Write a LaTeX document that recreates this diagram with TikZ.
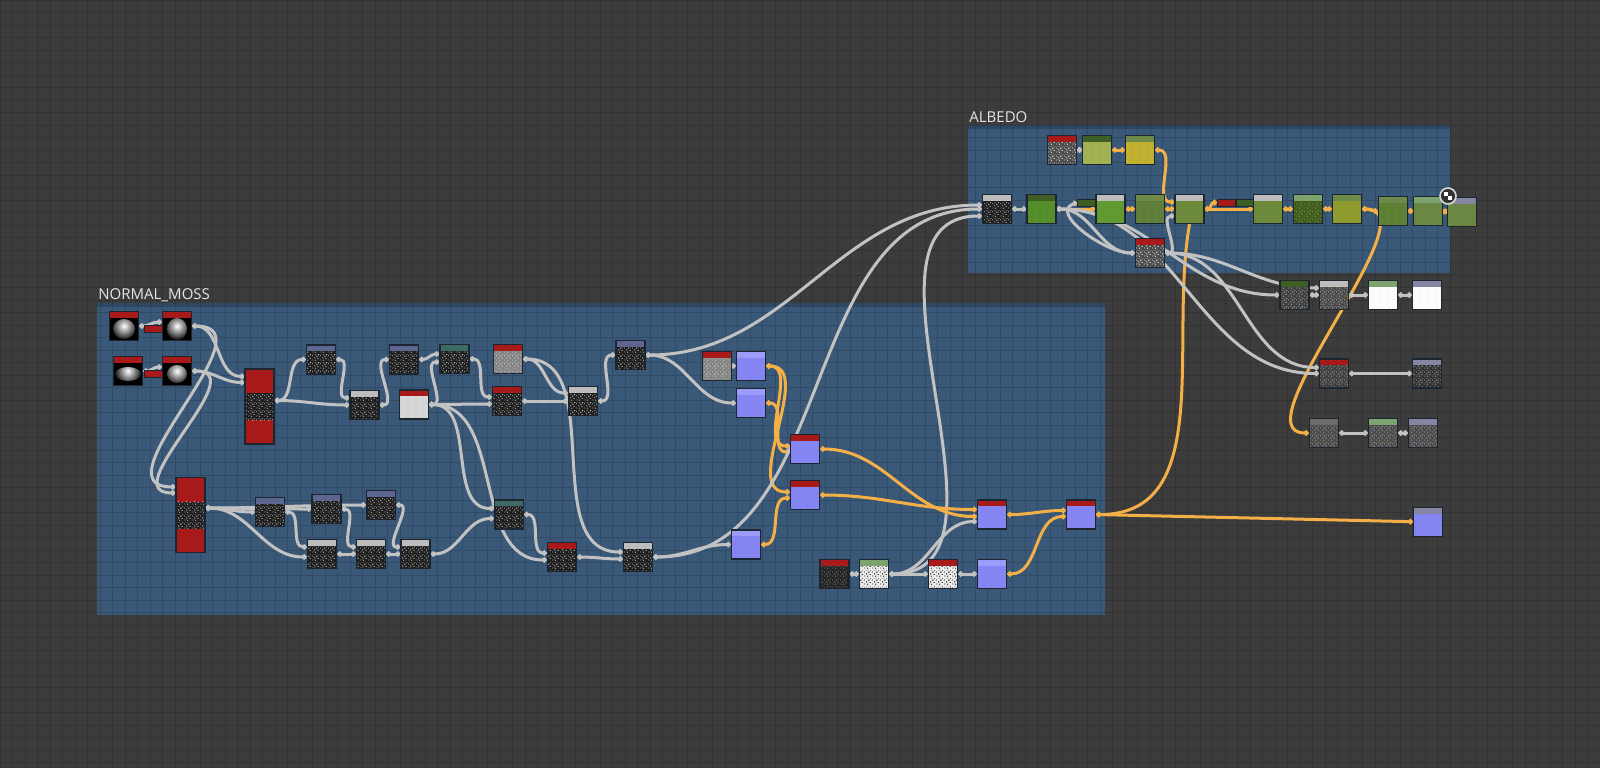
\documentclass[tikz,border=0pt]{standalone}
\usepackage{fontspec}
\setmainfont{Open Sans}
\usetikzlibrary{arrows.meta,patterns}

\definecolor{canvas}{HTML}{3C3C3C}
\definecolor{framec}{HTML}{3A5878}
\definecolor{framebar}{HTML}{2E4864}
\definecolor{edge}{HTML}{1C2630}
\definecolor{wireg}{HTML}{C2C2C2}
\definecolor{wireo}{HTML}{F4B046}
\definecolor{hred}{HTML}{A81A1A}
\definecolor{hblue}{HTML}{5C6690}
\definecolor{hgray}{HTML}{BDBDBD}
\definecolor{hteal}{HTML}{3D6A66}
\definecolor{hdkgreen}{HTML}{3E5E24}
\definecolor{hltgreen}{HTML}{7DA46E}
\definecolor{holive}{HTML}{6E8A48}
\definecolor{hlav}{HTML}{8686A2}
\definecolor{hmid}{HTML}{6C6C6C}
\definecolor{nrm}{HTML}{8282F2}
\definecolor{nrmtop}{HTML}{9C9CF8}
\definecolor{gA}{HTML}{A6B64A}
\definecolor{gY}{HTML}{C6B426}
\definecolor{gB}{HTML}{4E8E1E}
\definecolor{gC}{HTML}{5C9C26}
\definecolor{gD}{HTML}{5A7C30}
\definecolor{gE}{HTML}{6A8A32}
\definecolor{gG}{HTML}{3E5E16}
\definecolor{gH}{HTML}{8E9C22}
\definecolor{gI}{HTML}{587E2A}
\definecolor{gJ}{HTML}{68863A}

\pgfdeclarelayer{bg}
\pgfdeclarelayer{wires}
\pgfsetlayers{bg,wires,main}

\pgfdeclarepatternformonly{speckle}{\pgfpointorigin}{\pgfpoint{4pt}{4pt}}{\pgfpoint{4pt}{4pt}}{
  \pgfpathrectangle{\pgfpoint{0.2pt}{0.3pt}}{\pgfpoint{0.5pt}{0.5pt}}
  \pgfpathrectangle{\pgfpoint{1.9pt}{0.1pt}}{\pgfpoint{0.4pt}{0.6pt}}
  \pgfpathrectangle{\pgfpoint{3.1pt}{1.2pt}}{\pgfpoint{0.5pt}{0.4pt}}
  \pgfpathrectangle{\pgfpoint{1.1pt}{1.5pt}}{\pgfpoint{0.6pt}{0.5pt}}
  \pgfpathrectangle{\pgfpoint{0.1pt}{2.6pt}}{\pgfpoint{0.4pt}{0.4pt}}
  \pgfpathrectangle{\pgfpoint{2.4pt}{2.3pt}}{\pgfpoint{0.5pt}{0.6pt}}
  \pgfpathrectangle{\pgfpoint{1.4pt}{3.3pt}}{\pgfpoint{0.5pt}{0.4pt}}
  \pgfpathrectangle{\pgfpoint{3.3pt}{3.2pt}}{\pgfpoint{0.4pt}{0.5pt}}
  \pgfusepath{fill}}

\newcommand{\hdband}{\fill[\hdcol] (path picture bounding box.north west) rectangle ([yshift=-3.2pt]path picture bounding box.north east);}
\newcommand{\nzfill}{\fill[pattern=speckle, pattern color=\nzcol] (path picture bounding box.south west) rectangle (path picture bounding box.north east);}

\begin{document}
\begin{tikzpicture}[x=0.5pt, y=-0.5pt,
    hd/.store in=\hdcol, hd=hgray,
    nz/.store in=\nzcol, nz=white!80!black,
    tile/.style={draw=edge, line width=0.6pt, minimum width=14.5pt, minimum height=14.5pt, inner sep=0pt, fill=black!88, path picture={\hdband}},
    noisy/.style={tile, path picture={\nzfill\hdband}},
    normal/.style={noisy, fill=nrm, nz=nrmtop, hd=nrmtop},
    blob/.style={tile, fill=black, hd=hred, path picture={\shade[inner color=white, outer color=black] ([yshift=-1.5pt]path picture bounding box.center) ellipse (#1); \hdband}},
    blob/.default={5.5pt and 5pt},
    tall/.style={draw=edge, line width=0.6pt, minimum width=14.5pt, minimum height=37.5pt, inner sep=0pt, fill=hred,
      path picture={\fill[black!88] ([yshift=-12pt]path picture bounding box.north west) rectangle ([yshift=-25.5pt]path picture bounding box.north east);
        \fill[pattern=speckle, pattern color=white!80!black] ([yshift=-12pt]path picture bounding box.north west) rectangle ([yshift=-25.5pt]path picture bounding box.north east);}},
    pin/.style={draw=edge, line width=0.5pt, minimum width=9pt, minimum height=3.5pt, inner sep=0pt, fill=#1},
    wire/.style={wireg, line width=1.5pt, {Circle[length=2.6pt]}-{Circle[length=2.6pt]}},
    hot/.style={wire, wireo},
    title/.style={anchor=base west, inner sep=0pt, text=white!90!black, font=\fontsize{7.5}{9}\selectfont}]

  \useasboundingbox (0,0) rectangle (1600,768);

  % Canvas and frames
  \begin{pgfonlayer}{bg}
    \fill[canvas] (0,0) rectangle (1600,768);
    \fill[framec] (97,303) rectangle (1105,615);
    \fill[framebar] (97,303) rectangle (1105,307);
    \fill[framec] (968,125) rectangle (1450,273);
    \fill[framebar] (968,125) rectangle (1450,129);
    \draw[black, opacity=0.14, line width=0.5pt, step=6.25pt] (0,768) grid (1600,0);
  \end{pgfonlayer}

  \node[title] (normalTitle) at (98,299) {NORMAL\_MOSS};
  \node[title] (albedoTitle) at (969,122.5) {ALBEDO};

  % Define nodes: NORMAL_MOSS
  \node[blob] (b1) at (124,326) {};
  \node[blob={5pt and 5.5pt}] (b2) at (177,326) {};
  \node[blob={6.5pt and 3.5pt}] (b3) at (128,371) {};
  \node[blob={5pt and 4.5pt}] (b4) at (177,371) {};
  \node[pin=hred] (pinA) at (153,329) {};
  \node[pin=hred] (pinB) at (153,374) {};
  \node[tall] (tallA) at (259.5,406.5) {};
  \node[tall] (tallB) at (190.5,515) {};
  \node[noisy, hd=hblue] (nzA) at (321,359.5) {};
  \node[noisy, hd=hgray] (nzB) at (364.5,405) {};
  \node[noisy, hd=hblue] (nzC) at (404,359.5) {};
  \node[noisy, hd=hteal] (nzD) at (454.5,359) {};
  \node[noisy, hd=hred, fill=black!18, nz=white] (lite) at (414,404.5) {};
  \node[noisy, hd=hred, fill=black!48, nz=black!18] (cloudA) at (508,359) {};
  \node[noisy, hd=hred] (nzE) at (507,401) {};
  \node[noisy, hd=hgray] (nzF) at (583,401) {};
  \node[noisy, hd=hblue] (nzG) at (630.5,355) {};
  \node[noisy, hd=hred, fill=black!48, nz=black!18] (cloudB) at (717,366) {};
  \node[normal] (nrmA) at (751,366) {};
  \node[normal] (nrmB) at (751,403) {};
  \node[normal, hd=hred] (nrmC) at (805,449) {};
  \node[normal, hd=hred] (nrmD) at (805,495) {};
  \node[noisy, hd=hblue] (nzK) at (270,512) {};
  \node[noisy, hd=hblue] (nzL) at (326.5,509) {};
  \node[noisy, hd=hblue] (nzM) at (381,505) {};
  \node[noisy, hd=hgray] (nzN) at (322,554) {};
  \node[noisy, hd=hgray] (nzO) at (371,554) {};
  \node[noisy, hd=hgray] (nzP) at (415.5,554) {};
  \node[noisy, hd=hteal] (nzH) at (509,514.5) {};
  \node[noisy, hd=hred] (nzI) at (562,557) {};
  \node[noisy, hd=hgray] (nzJ) at (638,557) {};
  \node[normal] (nrmE) at (746,544.5) {};
  \node[normal, hd=hred] (nrmF) at (992,514.5) {};
  \node[normal, hd=hred] (nrmG) at (1081,514.5) {};
  \node[noisy, hd=hred, fill=black!85, nz=black!50] (patA) at (834.5,574) {};
  \node[noisy, hd=hltgreen, fill=black!8, nz=black] (patB) at (874,574) {};
  \node[noisy, hd=hred, fill=black!8, nz=black] (patC) at (943,574) {};
  \node[normal] (nrmH) at (992,574) {};

  % Define nodes: ALBEDO
  \node[noisy, hd=hred, fill=black!70, nz=white] (grungeA) at (1062,150) {};
  \node[noisy, hd=hdkgreen, fill=gA, nz=black!45] (grnA) at (1097,150) {};
  \node[noisy, hd=holive, fill=gY, nz=black!45] (ylwA) at (1140,150) {};
  \node[noisy, hd=hgray] (nzAl) at (997,209) {};
  \node[noisy, hd=hdkgreen, fill=gB, nz=black!45] (grnB) at (1041.5,209) {};
  \node[pin=hdkgreen] (pinC) at (1086.7,202.5) {};
  \node[noisy, hd=hgray, fill=gC, nz=black!45] (grnC) at (1110.5,209) {};
  \node[noisy, hd=holive, fill=gD, nz=black!45] (grnD) at (1150,209) {};
  \node[noisy, hd=hgray, fill=gE, nz=black!45] (grnE) at (1189.5,209) {};
  \node[pin=hred] (pinD) at (1226.7,202.5) {};
  \node[pin=hdkgreen] (pinE) at (1245.3,202.5) {};
  \node[noisy, hd=hgray, fill=gE, nz=black!45] (grnF) at (1268,209) {};
  \node[noisy, hd=hltgreen, fill=gG, nz=black!45] (grnG) at (1308,209) {};
  \node[noisy, hd=holive, fill=gH, nz=black!45] (grnH) at (1347,209) {};
  \node[noisy, hd=holive, fill=gI, nz=black!45] (grnI) at (1393,211) {};
  \node[noisy, hd=hltgreen, fill=gJ, nz=black!45] (grnJ) at (1428,211) {};
  \node[noisy, hd=hlav, fill=gJ, nz=black!45] (grnK) at (1462,212) {};
  \node[noisy, hd=hred, fill=black!70, nz=white] (grungeB) at (1150,253) {};
  \node[circle, draw=white!85!black, line width=0.8pt, fill=black!80, minimum size=8pt, inner sep=0pt,
    path picture={\fill[white] ([shift={(-2pt,2pt)}]path picture bounding box.center) rectangle (path picture bounding box.center);
      \fill[white] (path picture bounding box.center) rectangle ([shift={(2pt,-2pt)}]path picture bounding box.center);}] (icon) at (1448,196) {};

  % Define nodes: outputs
  \node[noisy, hd=hdkgreen, fill=black!75, nz=black!30] (nzQ) at (1294.5,295) {};
  \node[noisy, hd=hgray, fill=black!70, nz=black!30] (nzR) at (1334,295) {};
  \node[noisy, hd=hltgreen, fill=white, nz=black!12] (whtA) at (1383,295) {};
  \node[noisy, hd=hlav, fill=white, nz=black!12] (whtB) at (1427,295) {};
  \node[noisy, hd=hred, fill=black!75, nz=black!30] (nzS) at (1334,373.5) {};
  \node[noisy, hd=hlav, fill=black!80, nz=black!25] (nzT) at (1427,373.5) {};
  \node[noisy, hd=hmid, fill=black!70, nz=black!35] (nzU) at (1324,433) {};
  \node[noisy, hd=hltgreen, fill=black!70, nz=black!35] (nzV) at (1383,433) {};
  \node[noisy, hd=hlav, fill=black!70, nz=black!35] (nzW) at (1423,433) {};
  \node[normal, hd=hlav] (nrmI) at (1428,521.7) {};

  % Draw edges
  \begin{pgfonlayer}{wires}
    \draw[wire] (b1.east) to[out=0,in=180] ([yshift=2pt]b2.west);
    \draw[wire] (b3.east) to[out=0,in=180] ([yshift=2pt]b4.west);
    \draw[wire] (b2.east) to[out=0,in=180] ([yshift=-4pt]tallA.north west);
    \draw[wire] (b4.east) to[out=0,in=180] ([yshift=-7pt]tallA.north west);
    \draw[wire] (b2.east) to[out=0,in=180,looseness=1.3] ([yshift=-5pt]tallB.north west);
    \draw[wire] (b4.east) to[out=0,in=180,looseness=1.3] ([yshift=-8pt]tallB.north west);
    \draw[wire] ([yshift=3pt]tallA.east) to[out=0,in=180] (nzA.west);
    \draw[wire] ([yshift=3pt]tallA.east) to[out=0,in=180] (nzB.west);
    \draw[wire] (nzA.east) to[out=0,in=180] ([yshift=3.5pt]nzB.west);
    \draw[wire] (nzB.east) to[out=0,in=180] (nzC.west);
    \draw[wire] (nzC.east) to[out=0,in=180] ([yshift=2.5pt]nzD.west);
    \draw[wire] (lite.east) to[out=0,in=180] ([yshift=-1.5pt]nzD.west);
    \draw[wire] (lite.east) to[out=0,in=180] ([yshift=-1.5pt]nzE.west);
    \draw[wire] (lite.east) to[out=0,in=180] ([yshift=3pt]nzH.west);
    \draw[wire] (lite.east) to[out=0,in=180] ([yshift=-1.5pt]nzI.west);
    \draw[wire] (nzD.east) to[out=0,in=180] ([yshift=2pt]nzE.west);
    \draw[wire] (cloudA.east) to[out=0,in=180] ([yshift=4pt]nzF.west);
    \draw[wire] (cloudA.east) to[out=0,in=180] ([yshift=2.5pt]nzJ.west);
    \draw[wire] (nzE.east) to[out=0,in=180] (nzF.west);
    \draw[wire] (nzF.east) to[out=0,in=180] (nzG.west);
    \draw[wire] (nzG.east) to[out=0,in=180] ([yshift=2pt]nzAl.west);
    \draw[wire] (nzG.east) to[out=0,in=180] (nrmB.west);
    \draw[wire] (cloudB.east) -- (nrmA.west);
    \draw[hot] (nrmA.east) to[out=0,in=180] ([yshift=1.5pt]nrmC.west);
    \draw[hot] (nrmA.east) to[out=0,in=180] ([yshift=1.5pt]nrmD.west);
    \draw[hot] (nrmB.east) to[out=0,in=180] ([yshift=-1.5pt]nrmC.west);
    \draw[hot] (nrmE.east) to[out=0,in=180] ([yshift=-1.5pt]nrmD.west);
    \draw[wire] ([yshift=3.5pt]tallB.east) to[out=0,in=180] (nzK.west);
    \draw[wire] ([yshift=3.5pt]tallB.east) to[out=0,in=180] (nzL.west);
    \draw[wire] ([yshift=3.5pt]tallB.east) to[out=0,in=180] (nzM.west);
    \draw[wire] ([yshift=3.5pt]tallB.east) to[out=0,in=180] ([yshift=-1.5pt]nzN.west);
    \draw[wire] (nzK.east) to[out=0,in=180] ([yshift=3.5pt]nzN.west);
    \draw[wire] (nzL.east) to[out=0,in=180] ([yshift=3.5pt]nzO.west);
    \draw[wire] (nzN.east) -- (nzO.west);
    \draw[wire] (nzM.east) to[out=0,in=180] ([yshift=3.5pt]nzP.west);
    \draw[wire] (nzO.east) -- (nzP.west);
    \draw[wire] (nzP.east) to[out=0,in=180] ([yshift=-2pt]nzH.west);
    \draw[wire] (nzH.east) to[out=0,in=180] ([yshift=2pt]nzI.west);
    \draw[wire] (nzI.east) to[out=0,in=180] ([yshift=-1pt]nzJ.west);
    \draw[wire] (nzJ.east) to[out=0,in=180] (nrmE.west);
    \draw[wire] (nzJ.east) to[out=0,in=180] (nzAl.west);
    \draw[wire] (patA.east) -- (patB.west);
    \draw[wire] (patB.east) -- (patC.west);
    \draw[wire] (patB.east) to[out=0,in=180] ([yshift=-3.5pt]nrmF.west);
    \draw[wire] (patB.east) to[out=0,in=180] ([yshift=-3.5pt]nzAl.west);
    \draw[wire] (patC.east) -- (nrmH.west);
    \draw[hot] (nrmC.east) to[out=0,in=180] ([yshift=-1pt]nrmF.west);
    \draw[hot] (nrmD.east) to[out=0,in=180] ([yshift=2.5pt]nrmF.west);
    \draw[hot] (nrmF.east) to[out=0,in=180] ([yshift=2pt]nrmG.west);
    \draw[hot] (nrmH.east) to[out=0,in=180] ([yshift=-1pt]nrmG.west);
    \draw[hot] (nrmG.east) -- (nrmI.west);
    \draw[hot, {Circle[length=2.6pt]}-] (nrmG.east) to[out=0,in=-100] (grnE.south);
    % ALBEDO
    \draw[wire] (grungeA.east) -- (grnA.west);
    \draw[hot] (grnA.east) -- (ylwA.west);
    \draw[hot] (ylwA.east) to[out=0,in=180] ([yshift=3.5pt]grnE.west);
    \draw[wire] (nzAl.east) -- (grnB.west);
    \draw[hot] (grnB.east) -- (grnC.west);
    \draw[hot] (grnC.east) -- (grnD.west);
    \draw[hot] (grnD.east) -- (grnE.west);
    \draw[wire] (grungeB.east) to[out=0,in=180] ([yshift=-3.5pt]grnE.west);
    \draw[hot] (grnE.east) to[out=0,in=180] (pinD.west);
    \draw[hot] (grnE.east) -- (grnF.west);
    \draw[hot] (grnF.east) -- (grnG.west);
    \draw[hot] (grnG.east) -- (grnH.west);
    \draw[hot] (grnH.east) to[out=0,in=180] (grnI.west);
    \draw[hot] (grnH.east) to[out=0,in=180,looseness=0.8] (nzU.west);
    \draw[hot] (grnI.east) -- (grnJ.west);
    \draw[hot] (grnJ.east) -- (grnK.west);
    \draw[wire] (grnB.east) to[out=0,in=180] (grungeB.west);
    \draw[wire] (pinC.west) to[out=200,in=180] (grungeB.west);
    \draw[wire] (grnB.east) to[out=0,in=180] (nzQ.west);
    \draw[wire] (grnB.east) to[out=0,in=180] (nzS.west);
    \draw[wire] (grungeB.east) to[out=0,in=180] ([yshift=3.5pt]nzR.west);
    \draw[wire] (grungeB.east) to[out=0,in=180] ([yshift=3pt]nzS.west);
    \draw[wire] (nzQ.east) -- (nzR.west);
    \draw[wire] (nzR.east) -- (whtA.west);
    \draw[wire] (whtA.east) -- (whtB.west);
    \draw[wire] (nzS.east) -- (nzT.west);
    \draw[wire] (nzU.east) -- (nzV.west);
    \draw[wire] (nzV.east) -- (nzW.west);
  \end{pgfonlayer}
\end{tikzpicture}
\end{document}
